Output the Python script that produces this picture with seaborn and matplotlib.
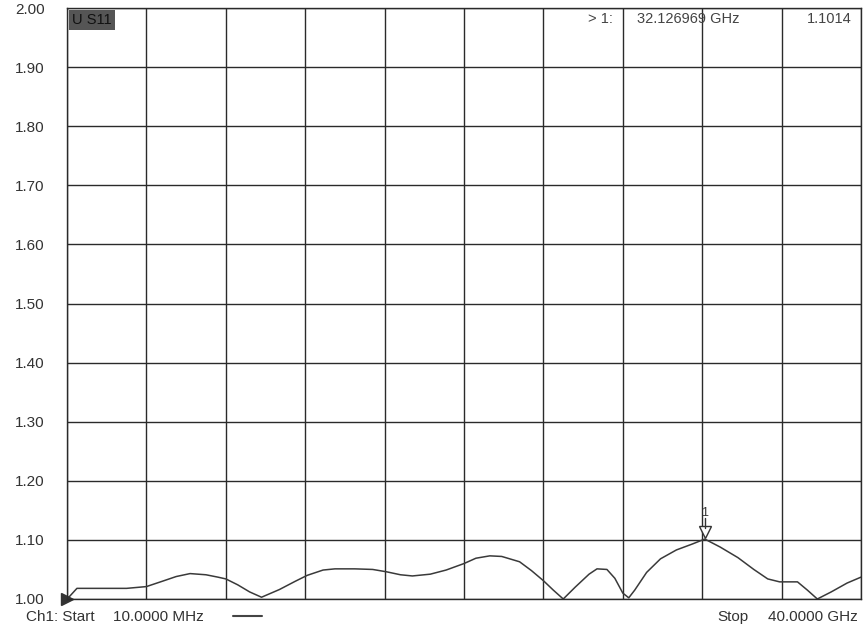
import numpy as np
import pandas as pd
import matplotlib
matplotlib.use("Agg")
import matplotlib.pyplot as plt
import seaborn as sns

# trace (GHz, SWR)
freq_ghz = [0.01, 0.5, 1.5, 3.0, 4.0, 4.8, 5.5, 6.2, 7.0, 7.6, 8.0, 8.6, 9.2, 9.8,
            10.7, 11.5, 12.1, 12.9, 13.5, 14.5, 15.4, 16.1, 16.8, 17.4, 18.3, 19.1,
            20.0, 20.6, 21.3, 21.9, 22.8, 23.4, 24.0, 24.5, 25.0, 25.6, 26.3, 26.7,
            27.2, 27.6, 28.0, 28.3, 28.6, 29.2, 29.9, 30.7, 31.5, 32.13, 32.9, 33.8,
            34.6, 35.3, 35.9, 36.8, 37.3, 37.8, 38.5, 39.3, 40.0]
swr = [1.000, 1.018, 1.018, 1.018, 1.021, 1.030, 1.038, 1.043, 1.041, 1.037, 1.034,
       1.024, 1.012, 1.003, 1.016, 1.030, 1.040, 1.049, 1.051, 1.051, 1.050, 1.046,
       1.041, 1.039, 1.042, 1.049, 1.060, 1.069, 1.073, 1.072, 1.063, 1.048, 1.031,
       1.015, 1.000, 1.020, 1.042, 1.051, 1.050, 1.035, 1.010, 1.002, 1.015, 1.045,
       1.068, 1.083, 1.093, 1.1014, 1.088, 1.070, 1.050, 1.034, 1.029, 1.029, 1.015,
       1.000, 1.012, 1.027, 1.037]
y_ticks = [1.00, 1.10, 1.20, 1.30, 1.40, 1.50, 1.60, 1.70, 1.80, 1.90, 2.00]
x_ticks = [0, 4, 8, 12, 16, 20, 24, 28, 32, 36, 40]
marker_f = 32.126969
marker_v = 1.1014

df = pd.DataFrame({"f": freq_ghz, "swr": swr})

sns.set_style("white")
plt.rcParams['font.family'] = ['Liberation Sans', 'DejaVu Sans']

W, H = 864, 628
fig = plt.figure(figsize=(8.64, 6.28), dpi=100)
ax = fig.add_axes([67 / W, 1 - 599 / H, 794 / W, 591 / H])

sns.lineplot(data=df, x="f", y="swr", ax=ax, color="#3a3a3a", linewidth=1.1)

ax.set_xlim(0, 40)
ax.set_ylim(1.0, 2.0)
ax.set_xticks(x_ticks)
ax.set_yticks(y_ticks)
ax.grid(True, color="#2a2a2a", linewidth=1.0)
ax.set_xticklabels([])
ax.set_yticklabels(["%.2f" % v for v in y_ticks], fontsize=11, color="#333333")
ax.tick_params(axis="both", length=0, pad=16)
ax.set_xlabel("")
ax.set_ylabel("")
for s in ax.spines.values():
    s.set_color("#2a2a2a")
    s.set_linewidth(1.0)

# marker 1
ax.plot([marker_f], [marker_v + 0.012], marker="v", markersize=8, markerfacecolor="white",
        markeredgecolor="#333333", linestyle="none", clip_on=False)
ax.plot([marker_f, marker_f], [marker_v + 0.019, marker_v + 0.036], color="#333333", linewidth=1)
ax.text(marker_f, marker_v + 0.034, "1", ha="center", va="bottom", fontsize=9, color="#333333")

# start arrow
ax.plot([0], [1.0], marker=">", markersize=9, color="#333333", clip_on=False)

def px(x, y):
    return x / W, 1 - y / H

# header texts
fig.text(*px(72, 20), "U S11", ha="left", va="center", fontsize=10.5, color="#111111",
         bbox=dict(boxstyle="square,pad=0.2", facecolor="#555555", edgecolor="none"))
fig.text(*px(613, 19), "> 1:", ha="right", va="center", fontsize=10.5, color="#444444")
fig.text(*px(637, 19), "32.126969 GHz", ha="left", va="center", fontsize=10.5, color="#444444")
fig.text(*px(852, 19), "1.1014", ha="right", va="center", fontsize=10.5, color="#444444")

# footer texts
fig.text(*px(26, 617), "Ch1: Start", ha="left", va="center", fontsize=11, color="#333333")
fig.text(*px(113, 617), "10.0000 MHz", ha="left", va="center", fontsize=11, color="#333333")
fig.add_artist(plt.Line2D([233 / W, 262 / W], [1 - 616 / H, 1 - 616 / H], color="#444444", linewidth=1.5))
fig.text(*px(717, 617), "Stop", ha="left", va="center", fontsize=11, color="#333333")
fig.text(*px(858, 617), "40.0000 GHz", ha="right", va="center", fontsize=11, color="#333333")

fig.savefig("out.png", dpi=100)
